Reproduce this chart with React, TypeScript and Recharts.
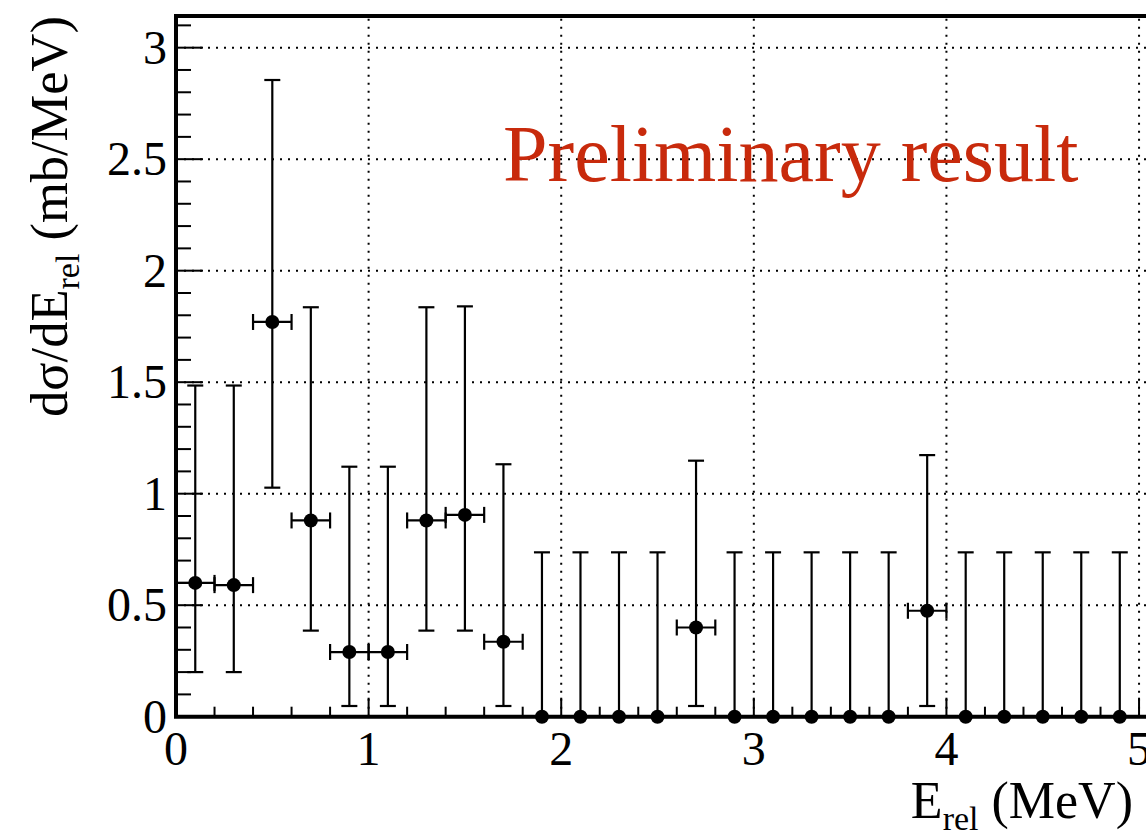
import React from "react";
import {
  ComposedChart,
  Scatter,
  ErrorBar,
  XAxis,
  YAxis,
  ReferenceLine,
  ReferenceArea,
} from "recharts";

// bin centres (MeV), bin half width
const binCenters = [
  0.1, 0.3, 0.5, 0.7, 0.9, 1.1, 1.3, 1.5, 1.7, 1.9, 2.1, 2.3, 2.5, 2.7, 2.9,
  3.1, 3.3, 3.5, 3.7, 3.9, 4.1, 4.3, 4.5, 4.7, 4.9,
];
const binHalfWidth = 0.1;

// dsigma/dE (mb/MeV)
const values = [
  0.6, 0.59, 1.77, 0.88, 0.29, 0.29, 0.88, 0.905, 0.336, 0, 0, 0, 0, 0.4, 0, 0,
  0, 0, 0, 0.475, 0, 0, 0, 0, 0,
];
const errUp = [
  0.885, 0.895, 1.085, 0.956, 0.831, 0.831, 0.956, 0.935, 0.796, 0.737, 0.737,
  0.737, 0.737, 0.748, 0.737, 0.737, 0.737, 0.737, 0.737, 0.698, 0.737, 0.737,
  0.737, 0.737, 0.737,
];
const errDown = [
  0.4, 0.39, 0.743, 0.494, 0.242, 0.242, 0.494, 0.519, 0.288, 0, 0, 0, 0, 0.352,
  0, 0, 0, 0, 0, 0.427, 0, 0, 0, 0, 0,
];

const xTicks = [
  0, 0.2, 0.4, 0.6, 0.8, 1, 1.2, 1.4, 1.6, 1.8, 2, 2.2, 2.4, 2.6, 2.8, 3, 3.2,
  3.4, 3.6, 3.8, 4, 4.2, 4.4, 4.6, 4.8, 5,
];
const yTicks = [
  0, 0.1, 0.2, 0.3, 0.4, 0.5, 0.6, 0.7, 0.8, 0.9, 1, 1.1, 1.2, 1.3, 1.4, 1.5,
  1.6, 1.7, 1.8, 1.9, 2, 2.1, 2.2, 2.3, 2.4, 2.5, 2.6, 2.7, 2.8, 2.9, 3, 3.1,
];
const xGrid = [1, 2, 3, 4, 5];
const yGrid = [0.5, 1, 1.5, 2, 2.5, 3];

const X_MAX = 5.1;
const Y_MAX = 3.142;
const FONT = "'Liberation Serif', 'Times New Roman', serif";

// empty bins: the horizontal bar would lie under the frame, ROOT clips it
const data = binCenters.map((x, i) => ({
  x,
  y: values[i],
  ex: values[i] > 0 ? binHalfWidth : 0,
  ey: [errDown[i], errUp[i]],
}));

const isMultiple = (v: number, step: number) =>
  Math.abs(v / step - Math.round(v / step)) < 1e-6;

function XTick(props: any) {
  const { x, y, payload } = props;
  const major = isMultiple(payload.value, 1);
  return (
    <g>
      <line x1={x} x2={x} y1={y} y2={y - (major ? 19 : 10)} stroke="#000" strokeWidth={2} />
      {major && (
        <text x={x} y={y + 48} textAnchor="middle" fontFamily={FONT} fontSize={48} fill="#000">
          {payload.value}
        </text>
      )}
    </g>
  );
}

function YTick(props: any) {
  const { x, y, payload } = props;
  const major = isMultiple(payload.value, 0.5);
  return (
    <g>
      <line x1={x} x2={x + (major ? 27 : 15)} y1={y} y2={y} stroke="#000" strokeWidth={2} />
      {major && (
        <text x={x - 9} y={y + 16} textAnchor="end" fontFamily={FONT} fontSize={48} fill="#000">
          {payload.value}
        </text>
      )}
    </g>
  );
}

const renderDot = (props: any) => (
  <circle cx={props.cx} cy={props.cy} r={7} fill="#000" stroke="none" />
);

export default function App() {
  return (
    <div
      style={{
        position: "absolute",
        left: 0,
        top: 0,
        width: 1146,
        height: 832,
        overflow: "hidden",
        background: "#fff",
      }}
    >
      <ComposedChart
        width={1170}
        height={832}
        data={data}
        margin={{ top: 16, right: 11.7, bottom: 114.3, left: 175 }}
      >
        <XAxis
          type="number"
          dataKey="x"
          domain={[0, X_MAX]}
          ticks={xTicks}
          interval={0}
          height={1}
          tickSize={0}
          tickMargin={0}
          axisLine={false}
          tickLine={false}
          tick={<XTick />}
        />
        <YAxis
          type="number"
          dataKey="y"
          domain={[0, Y_MAX]}
          ticks={yTicks}
          interval={0}
          width={1}
          tickSize={0}
          tickMargin={0}
          axisLine={false}
          tickLine={false}
          tick={<YTick />}
        />
        {xGrid.map((v) => (
          <ReferenceLine key={"gx" + v} x={v} stroke="#000" strokeWidth={2} strokeDasharray="2 6" />
        ))}
        {yGrid.map((v) => (
          <ReferenceLine key={"gy" + v} y={v} stroke="#000" strokeWidth={2} strokeDasharray="2 6" />
        ))}
        <ReferenceArea
          x1={0}
          x2={X_MAX}
          y1={0}
          y2={Y_MAX}
          fill="none"
          fillOpacity={0}
          stroke="#000"
          strokeWidth={4}
        />
        <Scatter dataKey="y" fill="#000" shape={renderDot} isAnimationActive={false}>
          <ErrorBar dataKey="ey" direction="y" width={8} stroke="#000" strokeWidth={2.2} />
          <ErrorBar dataKey="ex" direction="x" width={8} stroke="#000" strokeWidth={2.2} />
        </Scatter>
      </ComposedChart>
      <svg
        width={1146}
        height={832}
        style={{ position: "absolute", left: 0, top: 0, pointerEvents: "none" }}
      >
        <text x={503} y={181} fontFamily={FONT} fontSize={80} fill="#c82a0c">
          Preliminary result
        </text>
        <text
          x={67}
          y={417}
          transform="rotate(-90, 67, 417)"
          fontFamily={FONT}
          fontSize={52.5}
          fill="#000"
        >
          dσ/dE
          <tspan dy={12} fontSize={34}>rel</tspan>
          <tspan dy={-12}> (mb/MeV)</tspan>
        </text>
        <text x={1133} y={818} textAnchor="end" fontFamily={FONT} fontSize={52} fill="#000">
          E
          <tspan dy={12} fontSize={34}>rel</tspan>
          <tspan dy={-12}> (MeV)</tspan>
        </text>
      </svg>
    </div>
  );
}
